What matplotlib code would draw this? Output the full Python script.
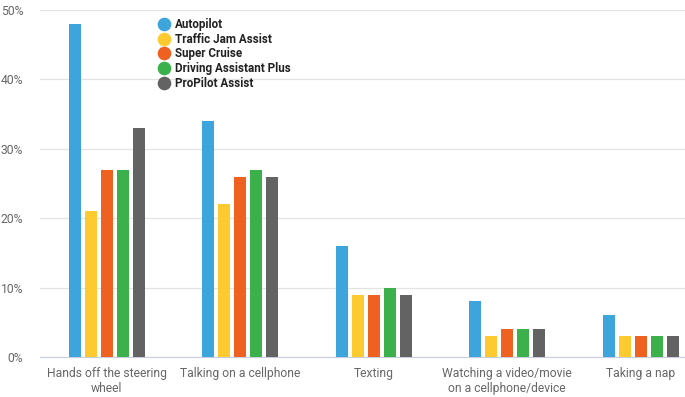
import matplotlib
matplotlib.use("Agg")
import matplotlib.pyplot as plt
import numpy as np
from matplotlib.lines import Line2D

plt.rcParams['font.family'] = ['Roboto', 'DejaVu Sans']

categories = ["Hands off the steering\nwheel", "Talking on a cellphone", "Texting",
              "Watching a video/movie\non a cellphone/device", "Taking a nap"]
series = ["Autopilot", "Traffic Jam Assist", "Super Cruise", "Driving Assistant Plus", "ProPilot Assist"]
autopilot = [48, 34, 16, 8, 6]
traffic_jam = [21, 22, 9, 3, 3]
super_cruise = [27, 26, 9, 4, 3]
driving_assist = [27, 27, 10, 4, 3]
propilot = [33, 26, 9, 4, 3]
yticks = [0, 10, 20, 30, 40, 50]
ytick_labels = ["0%", "10%", "20%", "30%", "40%", "50%"]

colors = ["#3ea4dc", "#fdca2f", "#ef6121", "#3bb04b", "#636363"]
values = [autopilot, traffic_jam, super_cruise, driving_assist, propilot]

fig = plt.figure(figsize=(6.85, 3.97), dpi=100)
W, H = 685, 397
left, right, top, bottom = 40, 685, 10, 357
ax = fig.add_axes([left / W, (H - bottom) / H, (right - left) / W, (bottom - top) / H])

x = np.arange(len(categories))
step = 0.12
bw = 0.092
for i, (vals, c) in enumerate(zip(values, colors)):
    ax.bar(x + (i - 2) * step, vals, width=bw, color=c, zorder=3)

ax.set_ylim(0, 50)
ax.set_xlim(-0.5, -0.5 + (right - left) / 133.5)
ax.set_yticks(yticks)
ax.set_yticklabels(ytick_labels)
ax.set_xticks(x)
ax.set_xticklabels(categories)
ax.grid(axis='y', color='#e3e3e3', linewidth=0.9, zorder=0)
for s in ['top', 'right', 'left']:
    ax.spines[s].set_visible(False)
ax.spines['bottom'].set_color('#c8cde0')
ax.tick_params(axis='both', length=0, labelsize=8.7, colors='#666666')
ax.tick_params(axis='y', pad=12)
ax.tick_params(axis='x', pad=7)

handles = [Line2D([0], [0], marker='o', linestyle='', markersize=8.8, markerfacecolor=c,
                  markeredgecolor=c) for c in colors]
leg = ax.legend(handles, series, loc='upper left', bbox_to_anchor=((152 - left) / (right - left), 0.99),
                frameon=False, handletextpad=0.35, labelspacing=0.14, borderaxespad=0.0,
                prop={'family': 'Roboto', 'weight': 'bold', 'size': 8.4}, handlelength=1.2)
for t in leg.get_texts():
    t.set_color('#222222')

fig.savefig("out.png", dpi=100)
